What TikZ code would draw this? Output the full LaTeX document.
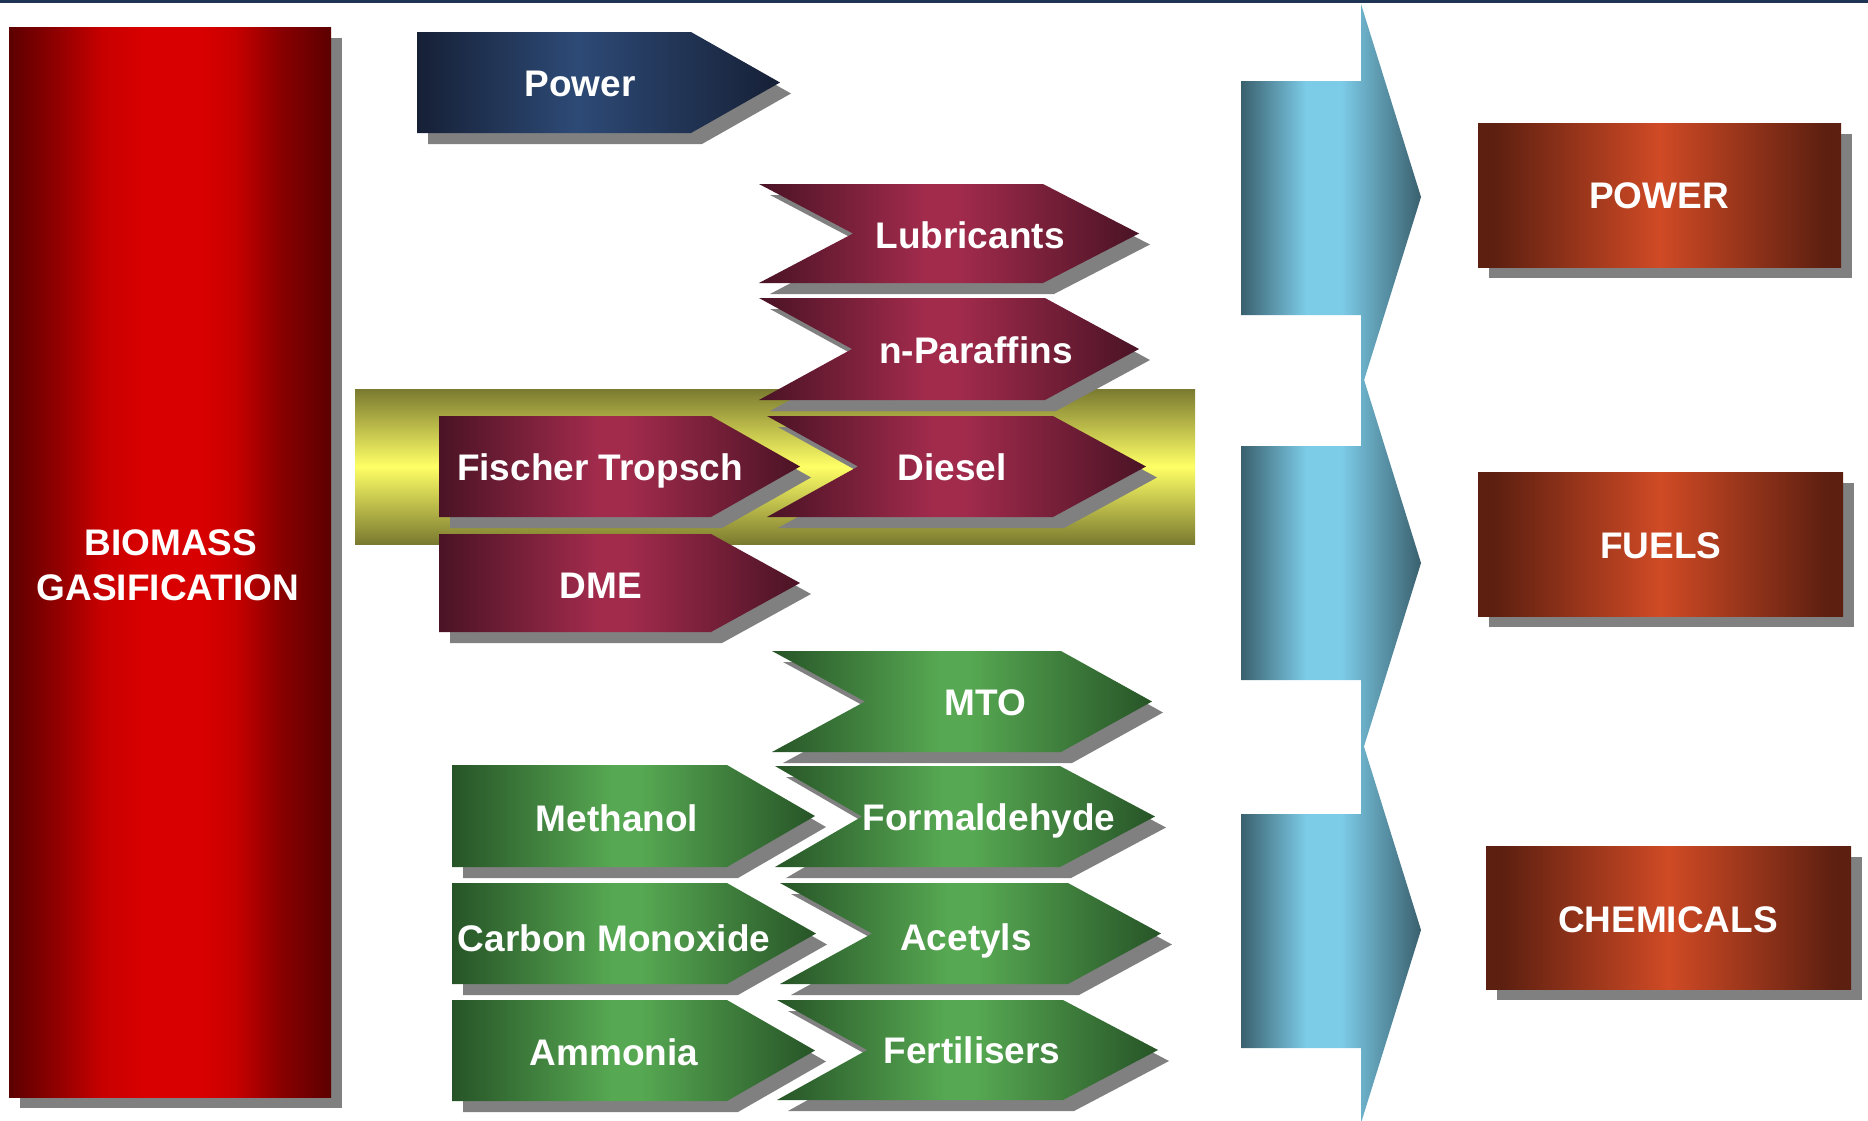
\documentclass[tikz,border=0pt]{standalone}
\usepackage{fontspec}
\setmainfont{Liberation Sans}

% palette
\definecolor{topline}{HTML}{1F3556}
\definecolor{shadowgray}{HTML}{808080}
\definecolor{reddk}{HTML}{5C0000}
\definecolor{redmd}{HTML}{8A0000}
\definecolor{redhi}{HTML}{C80000}
\definecolor{redlt}{HTML}{D80000}
\definecolor{navydk}{HTML}{162036}
\definecolor{navylt}{HTML}{2D4A76}
\definecolor{maroondk}{HTML}{4A1325}
\definecolor{maroonlt}{HTML}{A22B4C}
\definecolor{greendk}{HTML}{275427}
\definecolor{greenlt}{HTML}{56A852}
\definecolor{bluedk}{HTML}{3A606E}
\definecolor{bluelt}{HTML}{7CCBE7}
\definecolor{rustdk}{HTML}{5C1F10}
\definecolor{rustlt}{HTML}{D04A25}
\definecolor{olivedk}{HTML}{7A7A30}
\definecolor{yellowlt}{HTML}{FFFF66}

% cylinder-like gradients (path is fitted to 25bp..75bp)
\pgfdeclarehorizontalshading{redbar}{100bp}{color(0bp)=(reddk); color(25bp)=(reddk); color(31.5bp)=(redmd); color(39.5bp)=(redhi); color(46bp)=(redlt); color(55bp)=(redlt); color(60bp)=(redhi); color(67bp)=(redmd); color(75bp)=(reddk); color(100bp)=(reddk)}
\pgfdeclarehorizontalshading{navybar}{100bp}{color(0bp)=(navydk); color(25bp)=(navydk); color(47bp)=(navylt); color(75bp)=(navydk); color(100bp)=(navydk)}
\pgfdeclarehorizontalshading{maroonbar}{100bp}{color(0bp)=(maroondk); color(25bp)=(maroondk); color(47bp)=(maroonlt); color(51bp)=(maroonlt); color(75bp)=(maroondk); color(100bp)=(maroondk)}
\pgfdeclarehorizontalshading{greenbar}{100bp}{color(0bp)=(greendk); color(25bp)=(greendk); color(47bp)=(greenlt); color(51bp)=(greenlt); color(75bp)=(greendk); color(100bp)=(greendk)}
\pgfdeclarehorizontalshading{bluebar}{100bp}{color(0bp)=(bluedk); color(25bp)=(bluedk); color(43bp)=(bluelt); color(53bp)=(bluelt); color(75bp)=(bluedk); color(100bp)=(bluedk)}
\pgfdeclarehorizontalshading{rustbar}{100bp}{color(0bp)=(rustdk); color(25bp)=(rustdk); color(27bp)=(rustdk); color(50bp)=(rustlt); color(73bp)=(rustdk); color(75bp)=(rustdk); color(100bp)=(rustdk)}
\pgfdeclareverticalshading{yellowbar}{100bp}{color(0bp)=(olivedk); color(25bp)=(olivedk); color(50bp)=(yellowlt); color(75bp)=(olivedk); color(100bp)=(olivedk)}

\tikzset{
  lbl/.style={text=white, font=\fontsize{18.5}{22.5}\selectfont\bfseries,
              inner sep=0pt, anchor=base},
  dropshadow/.style={fill=shadowgray, shift={(11,11)}},
}

% arrow with flat tail: left x, top y, shoulder x, tip x, bottom y, shading
\newcommand\pentarrow[6]{%
  \fill[dropshadow] (#1,#2) -- (#3,#2) -- (#4,{(#2+#5)/2}) -- (#3,#5) -- (#1,#5) -- cycle;
  \shade[shading=#6] (#1,#2) -- (#3,#2) -- (#4,{(#2+#5)/2}) -- (#3,#5) -- (#1,#5) -- cycle;}

% chevron: left x, top y, notch x, shoulder x, tip x, bottom y, shading
\newcommand\chevarrow[7]{%
  \fill[dropshadow] (#1,#2) -- (#4,#2) -- (#5,{(#2+#6)/2}) -- (#4,#6) -- (#1,#6) -- (#3,{(#2+#6)/2}) -- cycle;
  \shade[shading=#7] (#1,#2) -- (#4,#2) -- (#5,{(#2+#6)/2}) -- (#4,#6) -- (#1,#6) -- (#3,{(#2+#6)/2}) -- cycle;}

% plain box with drop shadow: left x, top y, right x, bottom y, shading
\newcommand\shadowbox[5]{%
  \fill[dropshadow] (#1,#2) rectangle (#3,#4);
  \shade[shading=#5] (#1,#2) rectangle (#3,#4);}

\begin{document}
\begin{tikzpicture}[x=0.5pt, y=-0.5pt]
\useasboundingbox (0,0) rectangle (1868,1120);
\fill[white] (0,0) rectangle (1868,1120);
\fill[topline] (0,0) rectangle (1868,3);

% feedstock column
\shadowbox{9}{27}{331}{1097}{redbar}
\node[lbl] (biomass) at (171,555) {BIOMASS};
\node[lbl] (gasification) at (168,600) {GASIFICATION};

% highlighted Fischer-Tropsch route
\shade[shading=yellowbar] (355,389) rectangle (1195,544);

% power route
\pentarrow{417}{32}{691}{780}{133}{navybar}
\node[lbl] (power) at (580,96) {Power};

% fuels routes
\chevarrow{759}{184}{853}{1043}{1139}{283}{maroonbar}
\node[lbl] (lubricants) at (970,248) {Lubricants};
\chevarrow{759}{298}{852}{1045}{1139}{400}{maroonbar}
\node[lbl] (paraffins) at (976,363) {n-Paraffins};
\pentarrow{439}{416}{711}{800}{517}{maroonbar}
\node[lbl] (fischer) at (600,480) {Fischer Tropsch};
\chevarrow{767}{416}{858}{1053}{1146}{517}{maroonbar}
\node[lbl] (diesel) at (952,480) {Diesel};
\pentarrow{439}{534}{711}{800}{632}{maroonbar}
\node[lbl] (dme) at (601,598) {DME};

% chemicals routes
\chevarrow{772}{651}{865}{1061}{1152}{752}{greenbar}
\node[lbl] (mto) at (985,715) {MTO};
\pentarrow{452}{765}{727}{815}{867}{greenbar}
\node[lbl] (methanol) at (617,831) {Methanol};
\chevarrow{775}{766}{862}{1060}{1155}{867}{greenbar}
\node[lbl] (formaldehyde) at (989,830) {Formaldehyde};
\pentarrow{452}{883}{727}{816}{984}{greenbar}
\node[lbl] (co) at (614,951) {Carbon Monoxide};
\chevarrow{780}{883}{872}{1068}{1161}{984}{greenbar}
\node[lbl] (acetyls) at (966,950) {Acetyls};
\pentarrow{452}{1000}{727}{815}{1101}{greenbar}
\node[lbl] (ammonia) at (614,1065) {Ammonia};
\chevarrow{777}{1000}{867}{1063}{1158}{1100}{greenbar}
\node[lbl] (fertilisers) at (972,1063) {Fertilisers};

% collecting block arrows
\shade[shading=bluebar] (1241,81) -- (1361,81) -- (1361,4) -- (1421,197) -- (1361,390) -- (1361,315) -- (1241,315) -- cycle;
\shade[shading=bluebar] (1241,446) -- (1361,446) -- (1361,370) -- (1421,563) -- (1361,756) -- (1361,680) -- (1241,680) -- cycle;
\shade[shading=bluebar] (1241,814) -- (1361,814) -- (1361,737) -- (1421,930) -- (1361,1123) -- (1361,1048) -- (1241,1048) -- cycle;

% product categories
\shadowbox{1478}{123}{1841}{267}{rustbar}
\node[lbl] (outpower) at (1659,208) {POWER};
\shadowbox{1478}{472}{1843}{616}{rustbar}
\node[lbl] (outfuels) at (1661,558) {FUELS};
\shadowbox{1486}{846}{1851}{989}{rustbar}
\node[lbl] (outchem) at (1668,932) {CHEMICALS};
\end{tikzpicture}
\end{document}
